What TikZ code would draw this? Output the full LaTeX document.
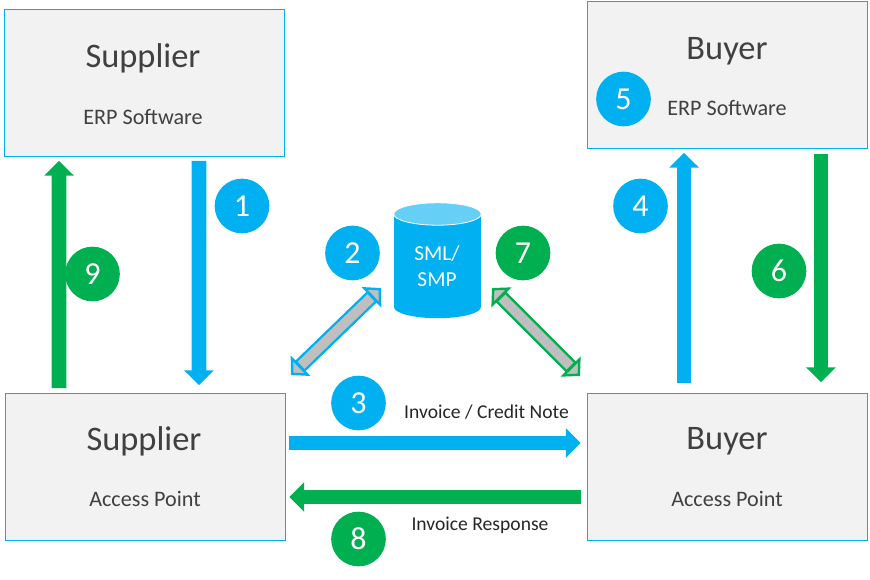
\documentclass[tikz,border=0pt]{standalone}
\usepackage{fontspec}
\setmainfont{Carlito}
\usepackage{tikz}
\usetikzlibrary{positioning,arrows.meta}
\definecolor{peppolblue}{HTML}{00B0F0}
\definecolor{peppolgreen}{HTML}{00B050}
\definecolor{boxgray}{HTML}{F2F2F2}
\definecolor{txtgray}{HTML}{404040}
\definecolor{topblue}{HTML}{66CFF6}
\definecolor{arrowgray}{HTML}{BFBFBF}
\tikzset{
 partybox/.style={draw=peppolblue,fill=boxgray,line width=.8pt,minimum width=210.5pt,minimum height=110pt,inner sep=0pt},
 titletxt/.style={font=\fontsize{25.8}{30}\selectfont,text=txtgray},
 subtxt/.style={font=\fontsize{16.6}{20}\selectfont,text=txtgray},
 msgtxt/.style={font=\fontsize{14.7}{17}\selectfont,text=black!85},
 numdot/.style={circle,fill=#1,text=white,minimum size=41pt,inner sep=0pt,font=\fontsize{24}{28}\selectfont},
 flowarrow/.style={line width=11pt,color=#1,-{Triangle[length=11pt,width=21.5pt]}},
 lookup/.style={line width=11pt,color=#1,
  {Triangle[length=10pt,width=21pt,fill=arrowgray,line width=1.8pt]}-{Triangle[length=10pt,width=21pt,fill=arrowgray,line width=1.8pt]},
  postaction={draw=arrowgray,line width=7.4pt,-,shorten <=10.5pt,shorten >=10.5pt}}
}
\begin{document}
\begin{tikzpicture}[x=.75pt,y=-.75pt]
\useasboundingbox (0,0) rectangle (870,579);
% boxes
\node[partybox] (supplierErp) at (144.5,83) {};
\node[partybox] (buyerErp) at (727.5,75) {};
\node[partybox] (supplierAp) at (145.5,467) {};
\node[partybox] (buyerAp) at (727.5,467) {};
\node[titletxt] (supplierErpT) at (143,58) {Supplier};
\node[subtxt] (supplierErpS) at (143,117) {ERP Software};
\node[titletxt] (buyerErpT) at (727,51) {Buyer};
\node[subtxt] (buyerErpS) at (727,108) {ERP Software};
\node[titletxt] (supplierApT) at (144,441) {Supplier};
\node[subtxt] (supplierApS) at (145,499) {Access Point};
\node[titletxt] (buyerApT) at (727,441.5) {Buyer};
\node[subtxt] (buyerApS) at (727,499) {Access Point};
% database
\fill[peppolblue] (394,214) -- (394,307) arc[start angle=180,end angle=360,x radius=32.6pt,y radius=8.4pt] -- (481,214) -- cycle;
\filldraw[fill=topblue,draw=white,line width=.6pt] (437.5,214) ellipse[x radius=32.8pt,y radius=8.4pt];
\node[text=white,align=center,font=\fontsize{16}{19.5}\selectfont] (smlTxt) at (437,266) {SML/\\SMP};
% flows
\draw[flowarrow=peppolblue,shorten <=3pt,shorten >=6pt] ([xshift=40.9pt]supplierErp.south) -- ([xshift=40.1pt]supplierAp.north);
\draw[flowarrow=peppolgreen,shorten <=3.75pt,shorten >=3pt] ([xshift=-64.9pt]supplierAp.north) -- ([xshift=-64.1pt]supplierErp.south);
\draw[flowarrow=peppolblue,shorten <=7.5pt,shorten >=3pt] ([xshift=-32.6pt]buyerAp.north) -- ([xshift=-32.6pt]buyerErp.south);
\draw[flowarrow=peppolgreen,shorten <=3.75pt,shorten >=8.25pt] ([xshift=70.1pt]buyerErp.south) -- ([xshift=70.1pt]buyerAp.north);
\draw[flowarrow=peppolblue,shorten <=2.25pt,shorten >=4.5pt] ([yshift=18pt]supplierAp.east) -- ([yshift=18pt]buyerAp.west);
\draw[flowarrow=peppolgreen,shorten <=4.5pt,shorten >=2.25pt] ([yshift=-22.5pt]buyerAp.west) -- ([yshift=-22.5pt]supplierAp.east);
% lookups
\coordinate (smlLeft) at (381,288);
\coordinate (apLeft) at (291,375);
\coordinate (smlRight) at (492,288);
\coordinate (apRight) at (580,376);
\draw[lookup=peppolblue] (apLeft) -- (smlLeft);
\draw[lookup=peppolgreen] (smlRight) -- (apRight);
% numbers
\foreach \n/\x/\y/\c in {1/242/206/peppolblue,2/352.5/253/peppolblue,3/358.5/403/peppolblue,4/640.5/206/peppolblue,5/623.5/99/peppolblue,6/779/271/peppolgreen,7/523/253/peppolgreen,8/358.5/539/peppolgreen,9/92.5/274/peppolgreen}
 \node[numdot=\c] (num\n) at (\x,\y) {\n};
\node[msgtxt] (invoiceTxt) at (486.5,412) {Invoice / Credit Note};
\node[msgtxt] (responseTxt) at (480,525.5) {Invoice Response};
\end{tikzpicture}
\end{document}
